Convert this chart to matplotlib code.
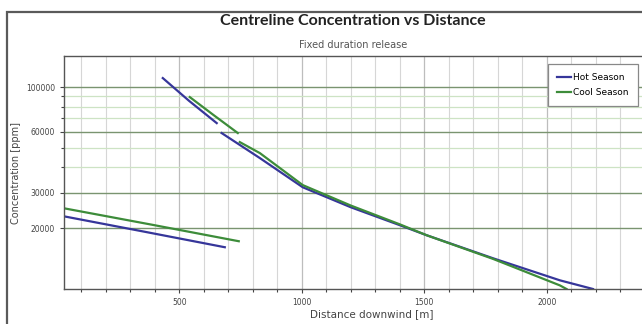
import numpy as np
import matplotlib
matplotlib.use("Agg")
import matplotlib.pyplot as plt
from matplotlib.patches import Rectangle
from matplotlib.ticker import NullFormatter, FixedLocator

# Data (distance in m, concentration in ppm)
hot_near_x = [30, 360, 686]
hot_near_y = [22900, 19200, 16100]
cool_near_x = [30, 390, 743]
cool_near_y = [25100, 20800, 17240]

hot_mid_x = [433, 540, 653]
hot_mid_y = [110800, 85500, 66300]
cool_mid_x = [543, 640, 739]
cool_mid_y = [89200, 72700, 59200]

hot_far_x = [673, 829, 1004, 1200, 1400, 1510, 1780, 2053, 2188]
hot_far_y = [59200, 44500, 31900, 25400, 20700, 18450, 14200, 11040, 10000]
cool_far_x = [747, 829, 1004, 1200, 1400, 1510, 1780, 2053, 2080]
cool_far_y = [53400, 47100, 32700, 25900, 20900, 18450, 14100, 10420, 10000]

y_major = [20000, 30000, 60000, 100000]
y_minor = [40000, 50000, 70000, 80000, 90000]
x_major = [500, 1000, 1500, 2000]

hot_color = "#36369a"
cool_color = "#3d8c3a"

fig = plt.figure(figsize=(6.42, 3.24), dpi=100)
ax = fig.add_axes([64 / 642, 35 / 324, 578 / 642, 233 / 324])

# outer frame of the chart panel
fig.add_artist(Rectangle((7 / 642, -0.2), 1.2, 1.2 - 12 / 324, transform=fig.transFigure,
                         fill=False, edgecolor="#5a5a5a", lw=1.6))

ax.set_yscale("log")
ax.set_xlim(30, 2388)
ax.set_ylim(10000, 142500)

ax.plot(hot_near_x, hot_near_y, color=hot_color, lw=1.6, label="Hot Season")
ax.plot(hot_mid_x, hot_mid_y, color=hot_color, lw=1.6)
ax.plot(hot_far_x, hot_far_y, color=hot_color, lw=1.6)
ax.plot(cool_near_x, cool_near_y, color=cool_color, lw=1.6, label="Cool Season")
ax.plot(cool_mid_x, cool_mid_y, color=cool_color, lw=1.6)
ax.plot(cool_far_x, cool_far_y, color=cool_color, lw=1.6)

ax.yaxis.set_major_locator(FixedLocator(y_major))
ax.yaxis.set_minor_locator(FixedLocator(y_minor))
ax.set_yticklabels([str(v) for v in y_major])
ax.yaxis.set_minor_formatter(NullFormatter())
ax.xaxis.set_major_locator(FixedLocator(x_major))
ax.xaxis.set_minor_locator(FixedLocator([v for v in range(100, 2400, 100) if v % 500]))
ax.set_xticklabels([str(v) for v in x_major])

ax.tick_params(which="both", labelsize=5.5, colors="#444444", length=3, width=0.8)
ax.tick_params(which="minor", length=2)

ax.grid(which="major", axis="y", color="#7a9470", lw=1.0)
ax.grid(which="minor", axis="y", color="#cde3c4", lw=0.9)
ax.grid(which="major", axis="x", color="#bdbdbd", lw=0.9)
ax.grid(which="minor", axis="x", color="#d6d6d6", lw=0.8)
ax.set_axisbelow(True)

ax.spines["right"].set_visible(False)
for s in ["left", "top", "bottom"]:
    ax.spines[s].set_color("#555555")
    ax.spines[s].set_linewidth(1.0)

ax.set_ylabel("Concentration [ppm]", fontsize=7, color="#444444")
ax.yaxis.set_label_coords(-0.075, 0.5)
ax.set_xlabel("Distance downwind [m]", fontsize=7.5, color="#444444", labelpad=1)
ax.xaxis.set_label_coords((372 - 64) / 578, -0.085)

fig.text(353 / 642, 1 - 21 / 324, "Centreline Concentration vs Distance", ha="center", va="center",
         fontsize=11.5, fontweight="bold", family="Lato", color="#222222")
fig.text(353 / 642, 1 - 45 / 324, "Fixed duration release", ha="center", va="center",
         fontsize=7, color="#555555")

leg = ax.legend(loc="upper right", bbox_to_anchor=(0.993, 0.966), fontsize=6.5, frameon=True,
                fancybox=False, edgecolor="#888888", framealpha=1, handlelength=1.5,
                borderpad=1.0, labelspacing=0.7, handletextpad=0.3, borderaxespad=0)
leg.get_frame().set_linewidth(0.9)

fig.savefig("out.png", dpi=100)
